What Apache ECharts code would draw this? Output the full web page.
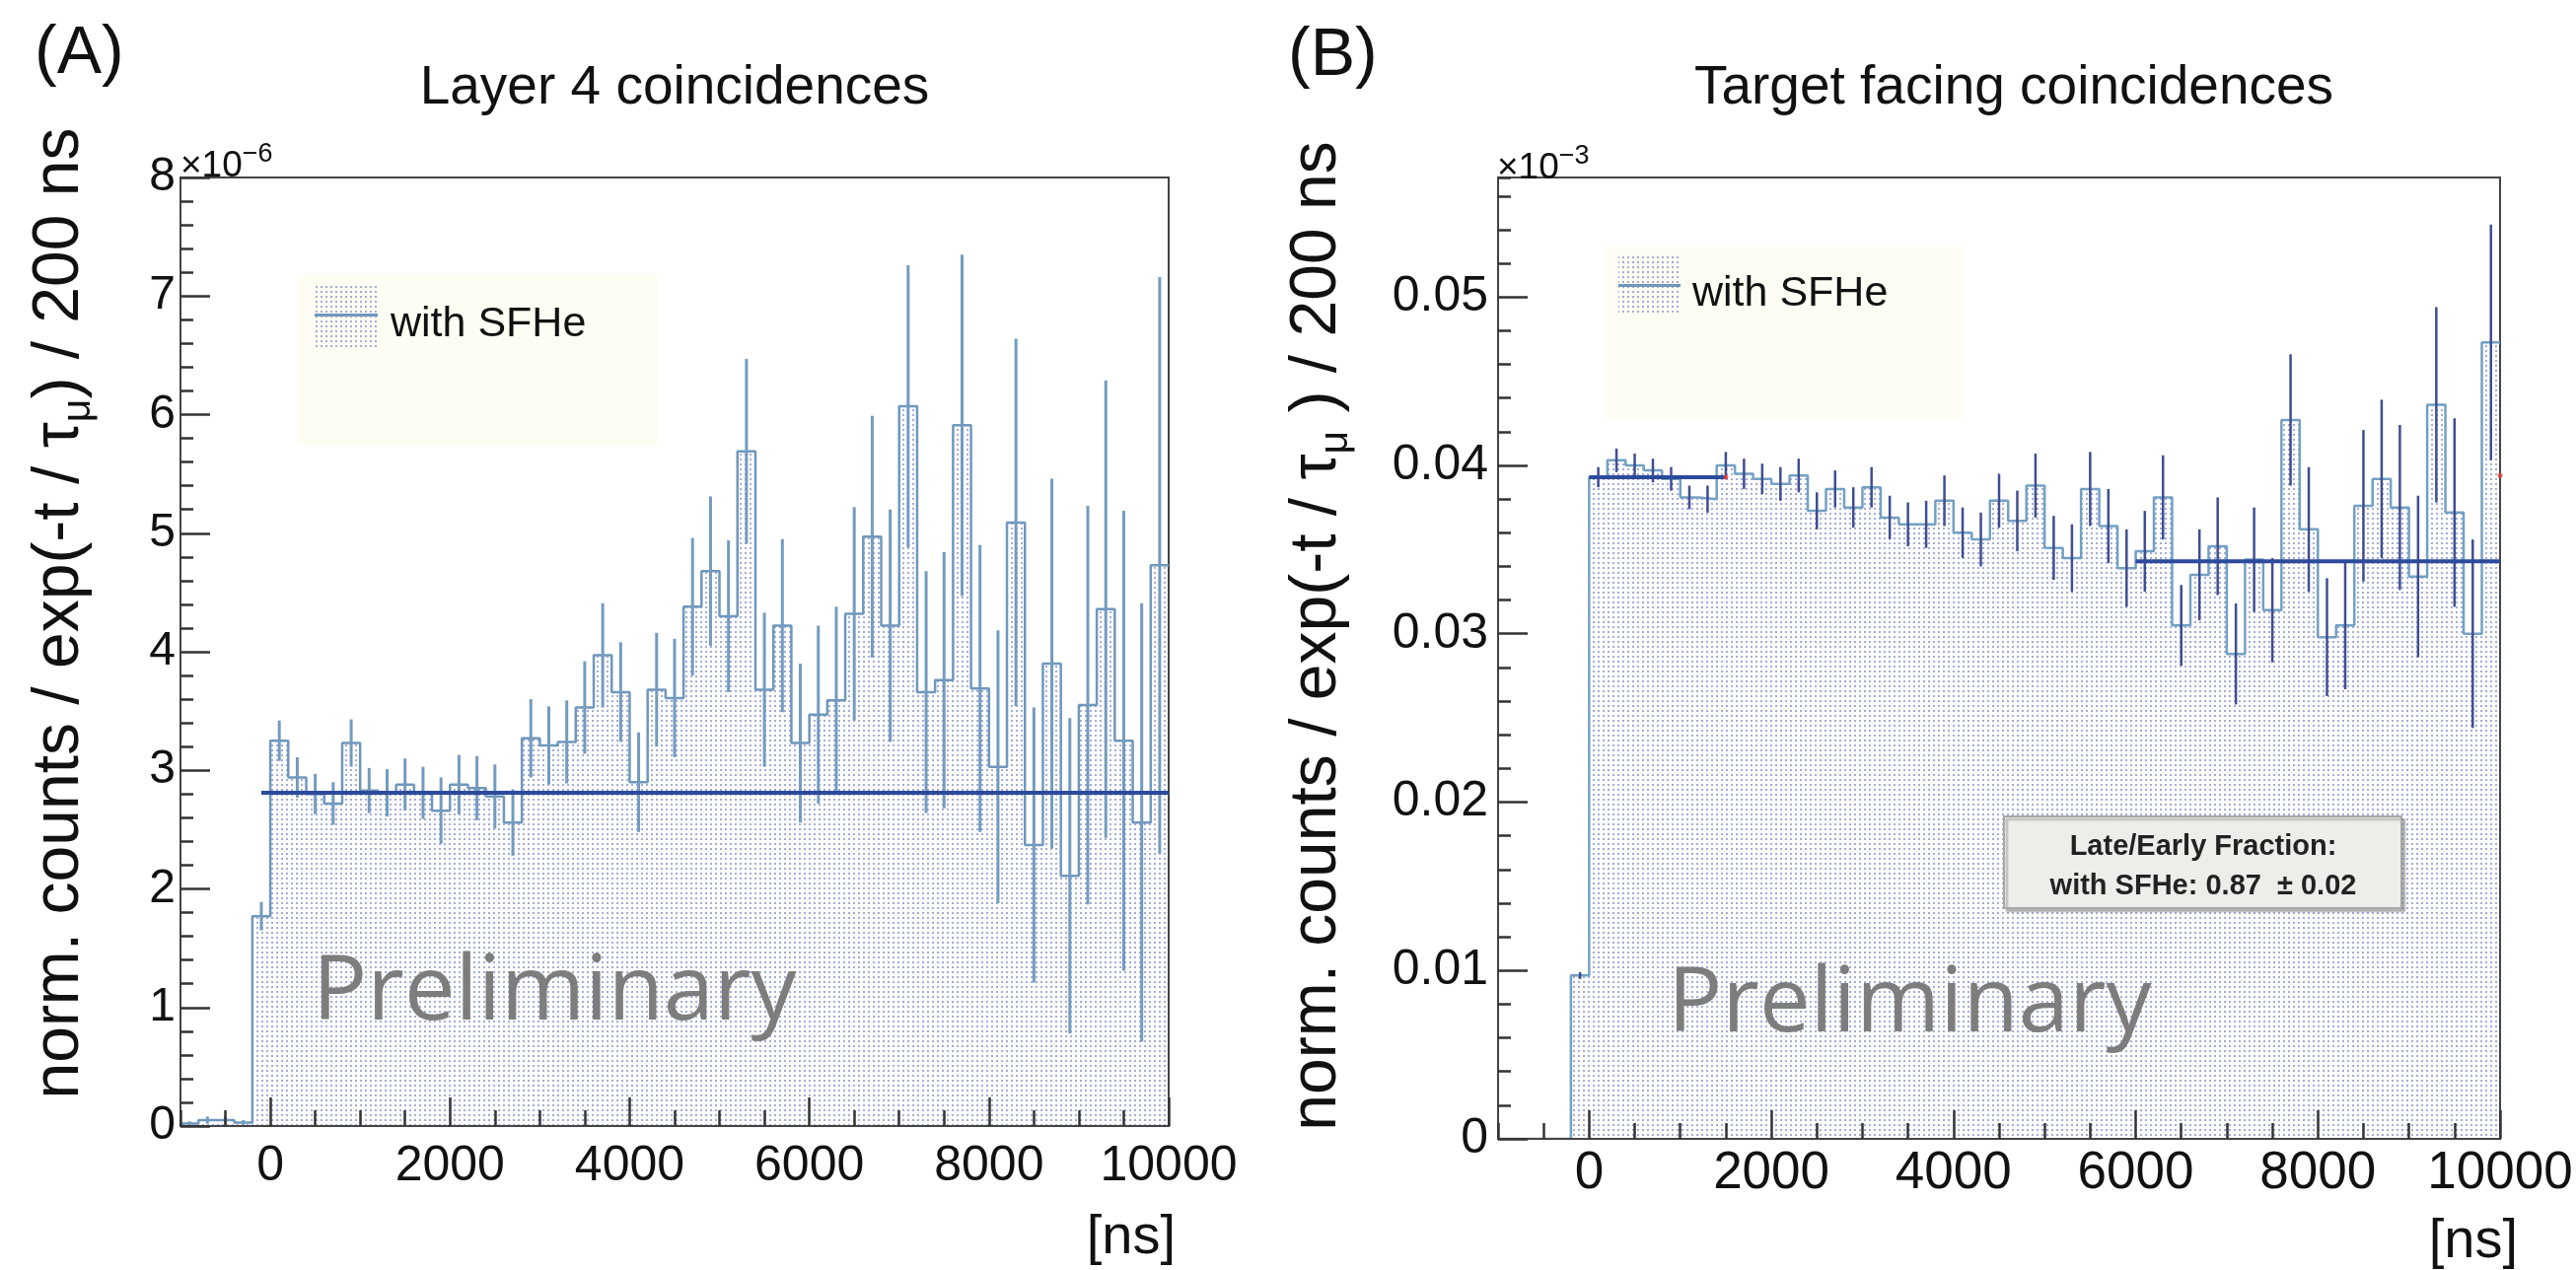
<!DOCTYPE html>
<html><head><meta charset="utf-8">
<script src="https://cdn.jsdelivr.net/npm/echarts@6/dist/echarts.min.js"></script>
<style>html,body{margin:0;padding:0;background:#fff}#c{width:2612px;height:1288px}</style>
</head><body><div id="c"></div><script>
// ---------- data ----------
const binCenters = [-900,-700,-500,-300,-100,100,300,500,700,900,1100,1300,1500,1700,1900,2100,2300,2500,2700,2900,3100,3300,3500,3700,3900,4100,4300,4500,4700,4900,5100,5300,5500,5700,5900,6100,6300,6500,6700,6900,7100,7300,7500,7700,7900,8100,8300,8500,8700,8900,9100,9300,9500,9700,9900];
const binWidth = 200;
// Panel A (x1e-6)
const layer4Values = [0.02,0.05,0.05,0.03,1.77,
  3.25,2.94,2.80,2.72,3.23,2.83,2.81,2.88,2.81,2.66,
  2.88,2.85,2.78,2.56,3.27,3.21,3.24,3.53,3.97,3.66,
  2.90,3.68,3.61,4.38,4.68,4.30,5.69,3.68,4.22,3.23,
  3.47,3.59,4.32,4.97,4.22,6.07,3.66,3.76,5.91,3.69,
  3.03,5.09,2.37,3.90,2.11,3.55,4.36,3.25,2.56,4.73];
const layer4Errors = [0.02,0.03,0.03,0.02,0.12,
  0.17,0.17,0.17,0.18,0.20,0.19,0.20,0.22,0.22,0.28,
  0.25,0.27,0.27,0.28,0.33,0.33,0.35,0.39,0.44,0.42,
  0.42,0.48,0.50,0.58,0.63,0.64,0.78,0.65,0.73,0.67,
  0.75,0.79,0.90,1.02,0.98,1.19,1.02,1.08,1.44,1.21,
  1.15,1.55,1.16,1.56,1.33,1.68,1.93,1.94,1.85,2.43];
const layer4FitX = [-100, 10000];
const layer4FitY = [2.81, 2.81];
// Panel B
const targetValues = [0,0,0,0,0.0097,
  0.0393,0.0403,0.0400,0.0397,0.0392,0.0381,0.0380,0.0400,0.0395,0.0392,
  0.0389,0.0394,0.0373,0.0386,0.0375,0.0387,0.0369,0.0365,0.0365,0.0379,
  0.0360,0.0356,0.0379,0.0367,0.0388,0.0351,0.0345,0.0386,0.0364,0.0339,
  0.0349,0.0381,0.0305,0.0335,0.0352,0.0288,0.0344,0.0314,0.0427,0.0362,
  0.0298,0.0305,0.0376,0.0392,0.0375,0.0334,0.0436,0.0372,0.0300,0.0473];
const targetErrors = [0,0,0,0,0.0002,
  0.0006,0.0007,0.0007,0.0007,0.0007,0.0007,0.0008,0.0008,0.0009,0.0009,
  0.0010,0.0010,0.0011,0.0011,0.0012,0.0012,0.0013,0.0013,0.0014,0.0015,
  0.0015,0.0016,0.0016,0.0018,0.0019,0.0019,0.0020,0.0022,0.0022,0.0023,
  0.0024,0.0025,0.0024,0.0027,0.0029,0.0030,0.0031,0.0031,0.0039,0.0037,
  0.0035,0.0038,0.0045,0.0047,0.0049,0.0048,0.0058,0.0056,0.0056,0.0070];
const targetFit1X = [0, 1500];
const targetFit1Y = [0.0393, 0.0393];
const targetFit2X = [6000, 10000];
const targetFit2Y = [0.0343, 0.0343];
const fitEndX = [1500, 10000];
const fitEndY = [0.0393, 0.0394];
const xMajorTicks = [0,2000,4000,6000,8000,10000];

// ---------- helpers ----------
const F = '"Liberation Sans", Arial, Helvetica, sans-serif';
function makePattern(){
  const c = document.createElement('canvas'); c.width = 5; c.height = 5;
  const g = c.getContext('2d'); g.fillStyle = '#a3add6'; g.fillRect(0,0,2,2);
  return {image: c, repeat: 'repeat'};
}
const PAT = makePattern();
function histPoints(vals){
  const pts = binCenters.map((c,i)=>[c - binWidth/2, vals[i]]);
  pts.push([binCenters[binCenters.length-1] + binWidth/2, vals[vals.length-1]]);
  return pts;
}
function errData(vals, errs){
  return binCenters.map((c,i)=>[c, vals[i], errs[i]]).filter(d=>d[2]>0);
}
function errSeries(gi, data, color, w){
  return {type:'custom', xAxisIndex: gi*2, yAxisIndex: gi*2, z: 3, data: data,
    renderItem(params, api){
      const x = api.value(0), y = api.value(1), e = api.value(2);
      const a = api.coord([x, y - e]), b = api.coord([x, y + e]);
      return {type:'line', shape:{x1:a[0], y1:a[1], x2:b[0], y2:b[1]}, style:{stroke:color, lineWidth:w}};
    }};
}
const TICK = {color:'#333', width:2.5};
function xAxes(gi, labelSize, margin){
  return [
    {type:'value', gridIndex:gi, z:6, min:-1000, max:10000, splitNumber:5,
     axisLine:{show:true, onZero:false, lineStyle:{color:'#444', width:2}},
     axisTick:{show:true, inside:true, length:29, customValues:xMajorTicks, lineStyle:TICK},
     axisLabel:{show:true, customValues:xMajorTicks, margin:margin, color:'#111', fontSize:labelSize, fontFamily:F, formatter: v => String(v)},
     splitLine:{show:false}},
    {type:'value', gridIndex:gi, z:6, min:-1000, max:10000, interval:500, position:'bottom',
     axisLine:{show:false, onZero:false}, axisTick:{show:true, inside:true, length:16, lineStyle:TICK},
     axisLabel:{show:false}, splitLine:{show:false}}
  ];
}
function yAxes(gi, max, major, minor, labelSize, margin, fmt){
  return [
    {type:'value', gridIndex:gi, z:6, min:0, max:max, interval:major,
     axisLine:{show:true, onZero:false, lineStyle:{color:'#444', width:2}},
     axisTick:{show:true, inside:true, length:30, lineStyle:TICK},
     axisLabel:{show:true, margin:margin, color:'#111', fontSize:labelSize, fontFamily:F, formatter:fmt || (v => String(v)), showMaxLabel: fmt ? false : true},
     splitLine:{show:false}},
    {type:'value', gridIndex:gi, z:6, min:0, max:max, interval:minor, position:'left',
     axisLine:{show:false, onZero:false}, axisTick:{show:true, inside:true, length:13, lineStyle:TICK},
     axisLabel:{show:false}, splitLine:{show:false}}
  ];
}
function fitSeries(gi, xs, ys){
  return {type:'line', xAxisIndex: gi*2, yAxisIndex: gi*2, z:4, symbol:'none', silent:true,
    data: xs.map((x,i)=>[x, ys[i]]), lineStyle:{color:'#2c4a9b', width:4}};
}
function histSeries(gi, vals, color){
  return {type:'line', xAxisIndex: gi*2, yAxisIndex: gi*2, z:2, step:'end', symbol:'none', silent:true,
    data: histPoints(vals), lineStyle:{color:color, width:2.5}, areaStyle:{color:PAT, opacity:1}};
}
function legendGroup(bx, by, bw, bh, sx, sy, sw, sh, tx, ty, lineColor){
  return [
    {type:'rect', shape:{x:bx, y:by, width:bw, height:bh}, style:{fill:'#fdfdf4'}, z:10},
    {type:'rect', shape:{x:sx, y:sy, width:sw, height:sh}, style:{fill:PAT}, z:11},
    {type:'line', shape:{x1:sx, y1:sy+sh/2, x2:sx+sw, y2:sy+sh/2}, style:{stroke:lineColor, lineWidth:3}, z:12},
    {type:'text', x:tx, y:ty, z:12, style:{text:'with SFHe', font:'43px '+F, fill:'#111', align:'left', verticalAlign:'middle'}}
  ];
}
const yTitleRich = {
  a:{fontSize:66, fontFamily:F, lineHeight:78, fill:'#111', color:'#111'},
  s:{fontSize:41, fontFamily:F, lineHeight:41, verticalAlign:'bottom', fill:'#111', color:'#111'}
};
const expRich = {
  a:{fontSize:37, fontFamily:F, lineHeight:44, verticalAlign:'bottom', fill:'#111', color:'#111'},
  b:{fontSize:27, fontFamily:F, lineHeight:27, verticalAlign:'top', fill:'#111', color:'#111'}
};

const option = {
  backgroundColor:'#ffffff',
  animation:false,
  grid:[
    {left:183, top:180, width:1002, height:962, show:true, borderColor:'#444', borderWidth:2, backgroundColor:'transparent'},
    {left:1519, top:180, width:1016, height:975, show:true, borderColor:'#444', borderWidth:2, backgroundColor:'transparent'}
  ],
  xAxis:[...xAxes(0, 50, 16), ...xAxes(1, 53, 9)],
  yAxis:[...yAxes(0, 8, 1, 0.2, 48, 5, null),
         ...yAxes(1, 0.0571, 0.01, 0.002, 50, 10, v => v === 0 ? '0' : v.toFixed(2))],
  series:[
    histSeries(0, layer4Values, '#6f97bd'),
    errSeries(0, errData(layer4Values, layer4Errors), '#749bbf', 3),
    fitSeries(0, layer4FitX, layer4FitY),
    histSeries(1, targetValues, '#73a0c4'),
    errSeries(1, errData(targetValues, targetErrors), '#3f4e90', 2.5),
    fitSeries(1, targetFit1X, targetFit1Y),
    fitSeries(1, targetFit2X, targetFit2Y),
    {type:'scatter', xAxisIndex:2, yAxisIndex:2, z:5, symbolSize:5, silent:true,
     itemStyle:{color:'#e2403a'}, data: fitEndX.map((x,i)=>[x, fitEndY[i]])}
  ],
  graphic:[
    {type:'text', x:35, y:55, style:{text:'(A)', font:'68px '+F, fill:'#111', align:'left', verticalAlign:'middle'}},
    {type:'text', x:1306, y:57, style:{text:'(B)', font:'68px '+F, fill:'#111', align:'left', verticalAlign:'middle'}},
    {type:'text', x:684, y:90, style:{text:'Layer 4 coincidences', font:'55px '+F, fill:'#111', align:'center', verticalAlign:'middle'}},
    {type:'text', x:2042, y:90, style:{text:'Target facing coincidences', font:'55px '+F, fill:'#111', align:'center', verticalAlign:'middle'}},
    {type:'text', x:183, y:187, style:{text:'{a|×10}{b|−6}', rich:expRich, align:'left', verticalAlign:'bottom'}},
    {type:'text', x:1518, y:189, style:{text:'{a|×10}{b|−3}', rich:expRich, align:'left', verticalAlign:'bottom'}},
    {type:'text', x:61, y:622, rotation:Math.PI/2, style:{text:'{a|norm. counts / exp(-t / τ}{s|μ}{a|) / 200 ns}', rich:yTitleRich, align:'center', verticalAlign:'middle'}},
    {type:'text', x:1336, y:645, rotation:Math.PI/2, style:{text:'{a|norm. counts / exp(-t / τ}{s|μ}{a| ) / 200 ns}', rich:yTitleRich, align:'center', verticalAlign:'middle'}},
    {type:'text', x:1192, y:1256, style:{text:'[ns]', font:'56px '+F, fill:'#111', align:'right', verticalAlign:'middle'}},
    {type:'text', x:2553, y:1260, style:{text:'[ns]', font:'56px '+F, fill:'#111', align:'right', verticalAlign:'middle'}},
    ...legendGroup(302, 278, 365, 174, 319, 287, 64, 65, 396, 329, '#6f97bd'),
    ...legendGroup(1628, 250, 362, 175, 1641, 260, 63, 59, 1716, 298, '#6f97bd'),
    {type:'text', x:317, y:1008, z:9, style:{text:'Preliminary', font:'92px "Open Sans", '+F, fill:'#7d7d7d', align:'left', verticalAlign:'middle'}},
    {type:'text', x:1691, y:1020, z:9, style:{text:'Preliminary', font:'92px "Open Sans", '+F, fill:'#7d7d7d', align:'left', verticalAlign:'middle'}},
    {type:'rect', z:10, shape:{x:2032, y:828, width:403, height:93}, style:{fill:'#ededea', stroke:'#a8a8a8', lineWidth:2, shadowColor:'rgba(0,0,0,0.25)', shadowOffsetX:3, shadowOffsetY:3, shadowBlur:2}},
    {type:'text', z:11, x:2234, y:859, style:{text:'Late/Early Fraction:', font:'bold 29px '+F, fill:'#222', align:'center', verticalAlign:'middle'}},
    {type:'text', z:11, x:2234, y:899, style:{text:'with SFHe: 0.87  ± 0.02', font:'bold 29px '+F, fill:'#222', align:'center', verticalAlign:'middle'}}
  ]
};
const chart = echarts.init(document.getElementById('c'), null, {renderer:'canvas', width:2612, height:1288});
chart.setOption(option);
</script></body></html>
